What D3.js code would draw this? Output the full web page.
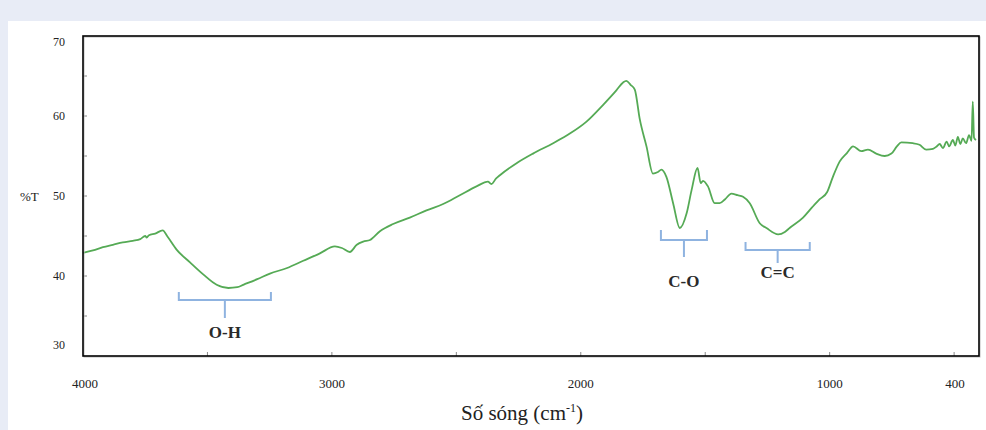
<!DOCTYPE html>
<html>
<head>
<meta charset="utf-8">
<script src="https://cdn.jsdelivr.net/npm/d3@7"></script>
<style>
  html, body { margin: 0; padding: 0; background: #e8ecf6; }
  svg { display: block; }
</style>
</head>
<body>
<script>
// FTIR spectrum
const wavenumber = [4000, 3960, 3920, 3880, 3840, 3800, 3770, 3750, 3744, 3735, 3710, 3680, 3660, 3624, 3570, 3517, 3463, 3416, 3380, 3356, 3300, 3249, 3180, 3115, 3050, 2988, 2960, 2928, 2900, 2874, 2847, 2807, 2754, 2687, 2620, 2553, 2486, 2419, 2373, 2359, 2340, 2325, 2258, 2192, 2111, 2044, 1977, 1910, 1857, 1830, 1817, 1800, 1783, 1763, 1736, 1710, 1690, 1676, 1656, 1629, 1602, 1575, 1555, 1531, 1518, 1509, 1489, 1462, 1442, 1420, 1395, 1370, 1348, 1321, 1281, 1254, 1207, 1180, 1161, 1107, 1070, 1040, 1010, 987, 960, 930, 906, 873, 846, 813, 779, 752, 730, 712, 666, 639, 612, 585, 570, 558, 545, 530, 520, 505, 495, 485, 475, 465, 452, 440, 430, 425, 420, 412];
const transmittance = [42.9, 43.2, 43.6, 43.9, 44.2, 44.4, 44.6, 45.0, 44.8, 45.1, 45.3, 45.7, 44.9, 43.3, 41.7, 40.2, 38.9, 38.5, 38.6, 38.9, 39.6, 40.3, 41.0, 41.9, 42.8, 43.7, 43.5, 43.0, 43.9, 44.3, 44.5, 45.6, 46.5, 47.3, 48.2, 49.0, 50.1, 51.2, 51.8, 51.5, 52.2, 52.6, 54.1, 55.3, 56.6, 57.8, 59.3, 61.4, 63.2, 64.2, 64.4, 63.9, 63.3, 59.6, 56.2, 52.8, 53.0, 53.3, 52.4, 49.1, 46.0, 47.8, 50.7, 53.5, 51.6, 51.9, 51.2, 49.1, 49.1, 49.6, 50.3, 50.1, 49.9, 49.1, 46.6, 46.0, 45.2, 45.5, 46.0, 47.3, 48.6, 49.6, 50.5, 52.4, 54.3, 55.4, 56.2, 55.6, 55.8, 55.3, 55.0, 55.3, 56.2, 56.7, 56.6, 56.4, 55.8, 55.9, 56.2, 56.5, 56.0, 56.8, 56.2, 57.0, 56.3, 57.4, 56.5, 57.2, 56.6, 57.6, 56.9, 61.8, 57.3, 57.0];

const xTickLabels = [4000, 3000, 2000, 1000, 400];
const xMinorTicks = [3500, 3000, 2500, 2000, 1500, 1000, 500];
const yTickLabels = [70, 60, 50, 40, 30];
const yMinorTicks = [35, 40, 45, 50, 55, 60, 65];

// absorption bands: label and the wavenumber span of its bracket
const bandLabels = ['O-H', 'C-O', 'C=C'];
const bandFrom = [3615, 1678, 1338];
const bandTo = [3245, 1493, 1080];

// where each bracket sits on the page (px): arm top, arm length, stem end, label middle
const bracketLayout = [
  {top: 292, arm: 8, stem: 318, label: 332},
  {top: 230, arm: 10, stem: 257, label: 281},
  {top: 242, arm: 8, stem: 263, label: 272}
];

const width = 986, height = 430;
const frame = {left: 83, right: 979, top: 36, bottom: 356};

const x = d3.scaleLinear().domain([4000, 400]).range([frame.left, frame.right]);
const y = d3.scaleLinear().domain([30, 70]).range([frame.bottom, frame.top]);

const svg = d3.select('body').append('svg')
  .attr('width', width)
  .attr('height', height);

// white panel over the lavender page
svg.append('rect')
  .attr('x', 8).attr('y', 21)
  .attr('width', width - 8).attr('height', height - 21)
  .attr('fill', '#fff');

// minor ticks, pointing inward
svg.append('g').selectAll('line')
  .data(yMinorTicks)
  .join('line')
  .attr('x1', frame.left).attr('x2', frame.left + 4)
  .attr('y1', d => y(d)).attr('y2', d => y(d))
  .attr('stroke', '#888').attr('stroke-width', 1);

svg.append('g').selectAll('line')
  .data(xMinorTicks)
  .join('line')
  .attr('x1', d => x(d)).attr('x2', d => x(d))
  .attr('y1', frame.bottom).attr('y2', frame.bottom - 4)
  .attr('stroke', '#888').attr('stroke-width', 1);

// spectrum
const line = d3.line()
  .x((d, i) => x(wavenumber[i]))
  .y(d => y(d))
  .curve(d3.curveMonotoneX);

svg.append('path')
  .datum(transmittance)
  .attr('d', line)
  .attr('fill', 'none')
  .attr('stroke', '#55aa55')
  .attr('stroke-width', 1.8)
  .attr('stroke-linejoin', 'round');

// frame
svg.append('rect')
  .attr('x', frame.left + 1).attr('y', frame.top + 1)
  .attr('width', frame.right - frame.left).attr('height', frame.bottom - frame.top)
  .attr('fill', 'none').attr('stroke', '#bbb').attr('stroke-width', 1);
svg.append('rect')
  .attr('x', frame.left).attr('y', frame.top)
  .attr('width', frame.right - frame.left).attr('height', frame.bottom - frame.top)
  .attr('fill', 'none').attr('stroke', '#000').attr('stroke-width', 1.6);

// y tick labels (end labels sit just inside the frame like the original)
svg.append('g').selectAll('text')
  .data(yTickLabels)
  .join('text')
  .attr('x', 65)
  .attr('y', d => Math.min(Math.max(y(d), 42), 345))
  .attr('dy', '0.35em')
  .attr('text-anchor', 'end')
  .attr('font-family', 'Liberation Serif, serif')
  .attr('font-size', 12)
  .attr('fill', '#222')
  .text(d => d);

svg.append('text')
  .attr('x', 20).attr('y', y(50))
  .attr('dy', '0.35em')
  .attr('font-family', 'Liberation Serif, serif')
  .attr('font-size', 13)
  .attr('fill', '#222')
  .text('%T');

// x tick labels, "400" drawn left of the frame corner as in the picture
svg.append('g').selectAll('text')
  .data(xTickLabels)
  .join('text')
  .attr('x', d => d === 400 ? x(d) - 24 : x(d) + (d === 4000 ? 2 : 0))
  .attr('y', 388)
  .attr('text-anchor', 'middle')
  .attr('font-family', 'Liberation Serif, serif')
  .attr('font-size', 13)
  .attr('fill', '#222')
  .text(d => d);

const title = svg.append('text')
  .attr('x', 522).attr('y', 420)
  .attr('text-anchor', 'middle')
  .attr('font-family', 'Liberation Serif, serif')
  .attr('font-size', 21)
  .attr('fill', '#222');
title.append('tspan').text('Số sóng (cm');
title.append('tspan').attr('font-size', 12).attr('dy', -8).text('-1');
title.append('tspan').attr('dy', 8).text(')');

// band brackets
const bands = svg.append('g').selectAll('g')
  .data(bandLabels)
  .join('g');

bands.append('path')
  .attr('d', (d, i) => {
    const x0 = x(bandFrom[i]), x1 = x(bandTo[i]);
    const {top, arm, stem} = bracketLayout[i];
    const mid = (x0 + x1) / 2;
    return `M${x0},${top} V${top + arm} H${x1} V${top} M${mid},${top + arm} V${stem}`;
  })
  .attr('fill', 'none')
  .attr('stroke', '#8fb3e0')
  .attr('stroke-width', 2);

bands.append('text')
  .attr('x', (d, i) => (x(bandFrom[i]) + x(bandTo[i])) / 2)
  .attr('y', (d, i) => bracketLayout[i].label)
  .attr('dy', '0.35em')
  .attr('text-anchor', 'middle')
  .attr('font-family', 'Liberation Serif, serif')
  .attr('font-weight', 'bold')
  .attr('font-size', 17)
  .attr('fill', '#2a2a2a')
  .text(d => d);
</script>
</body>
</html>
